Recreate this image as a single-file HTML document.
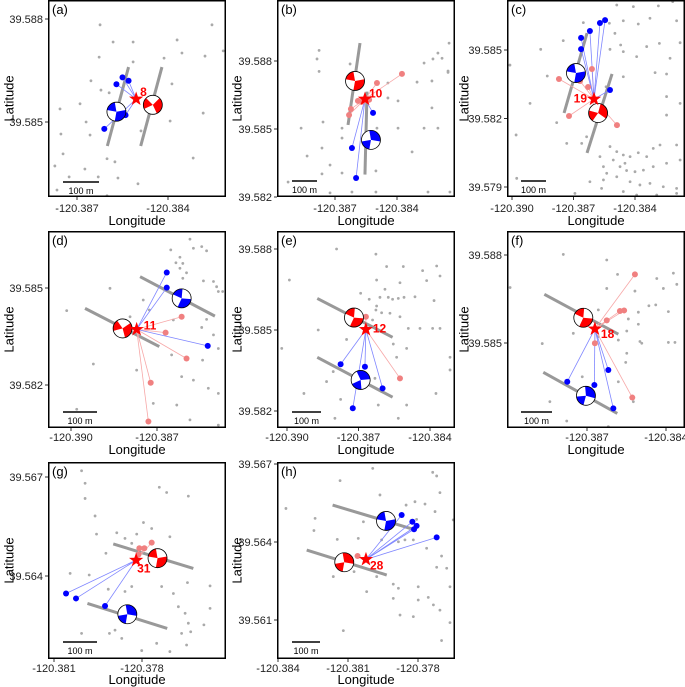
<!DOCTYPE html>
<html><head><meta charset="utf-8">
<style>
html,body{margin:0;padding:0;background:#fff;}
svg{display:block;font-family:"Liberation Sans",Arial,sans-serif;}
</style></head>
<body>
<svg id="fig" width="685" height="687" viewBox="0 0 685 687" xmlns="http://www.w3.org/2000/svg"></svg>
<script>
// ---------- DATA ----------
const xTickLabelsA = [-120.387, -120.384];
const yTickLabelsA = [39.588, 39.585];
const aStar = [-120.38505, 39.58567];
const aBlue = [[-120.3857,39.5861],[-120.3855,39.5863],[-120.3853,39.5862],[-120.3861,39.5848],[-120.3854,39.5852]];
const aRed = [];
const aBalls = [[-120.3857,39.5853,'blue',45],[-120.3845,39.5855,'red',10]];
const aFaults = [[-120.3853,39.5866,-120.3860,39.5843],[-120.3842,39.5866,-120.3849,39.5843]];
const aGray = [[-120.38624,39.58783],[-120.38255,39.58783],[-120.38581,39.58733],[-120.38515,39.58733],[-120.38370,39.58739],[-120.38354,39.58701],[-120.38218,39.58707],[-120.38627,39.58689],[-120.38413,39.58686],[-120.38654,39.58620],[-120.38621,39.58593],[-120.38594,39.58585],[-120.38387,39.58611],[-120.38690,39.58553],[-120.38756,39.58538],[-120.38670,39.58500],[-120.38753,39.58465],[-120.38657,39.58462],[-120.38489,39.58474],[-120.38393,39.58503],[-120.38284,39.58526],[-120.38746,39.58407],[-120.38601,39.58393],[-120.38575,39.58384],[-120.38674,39.58363],[-120.38773,39.58372],[-120.38726,39.58340],[-120.38630,39.58340],[-120.38565,39.58337],[-120.38499,39.58320],[-120.38317,39.58395],[-120.38766,39.58302],[-120.38601,39.58285],[-120.38515,39.58675],[-120.38278,39.58692]];

const xTickLabelsB = [-120.387, -120.384];
const yTickLabelsB = [39.588, 39.585, 39.582];
const bStar = [-120.38555, 39.58632];
const bBlue = [[-120.38516,39.58571],[-120.38618,39.58416],[-120.38598,39.58284]];
const bRed = [[-120.38376,39.58743],[-120.38497,39.58703],[-120.38589,39.58624],[-120.38569,39.58620],[-120.38535,39.58629],[-120.38623,39.58588],[-120.38632,39.58562]];
const bBalls = [[-120.38603,39.58712,'red',45],[-120.38526,39.58452,'blue',315]];
const bFaults = [[-120.38579,39.58879,-120.38637,39.58518],[-120.38545,39.58665,-120.38555,39.58299]];
const bGray = [[-120.38777,39.58847],[-120.38777,39.58754],[-120.38787,39.58809],[-120.38182,39.58812],[-120.38153,39.58750],[-120.38148,39.58879],[-120.38202,39.58835],[-120.38226,39.58809],[-120.38269,39.58791],[-120.38153,39.58756],[-120.38231,39.58712],[-120.38303,39.58707],[-120.38444,39.58703],[-120.38627,39.58787],[-120.38395,39.58624],[-120.38444,39.58637],[-120.38231,39.58593],[-120.38269,39.58504],[-120.38202,39.58504],[-120.38395,39.58504],[-120.38758,39.58531],[-120.38864,39.58504],[-120.38666,39.58504],[-120.38666,39.58460],[-120.38497,39.58504],[-120.38763,39.58416],[-120.38835,39.58381],[-120.38724,39.58341],[-120.38666,39.58306],[-120.38763,39.58302],[-120.38502,39.58315],[-120.38327,39.58399],[-120.38927,39.58266],[-120.38724,39.58218],[-120.38618,39.58222],[-120.38502,39.58222],[-120.38250,39.58222],[-120.38144,39.58222]];

const xTickLabelsC = [-120.390, -120.387, -120.384];
const yTickLabelsC = [39.585, 39.582, 39.579];
const cStar = [-120.38600, 39.58285];
const cBlue = [[-120.38663,39.58553],[-120.38663,39.58504],[-120.38620,39.58583],[-120.38571,39.58618],[-120.38546,39.58631],[-120.38522,39.58325]];
const cRed = [[-120.38771,39.58373],[-120.38668,39.58364],[-120.38610,39.58417],[-120.38629,39.58338],[-120.38722,39.58211],[-120.38488,39.58171],[-120.38610,39.58230]];
const cBalls = [[-120.38688,39.58399,'blue',45],[-120.38580,39.58224,'red',340]];
const cFaults = [[-120.38634,39.58574,-120.38746,39.58224],[-120.38512,39.58395,-120.38634,39.58049]];
const cGray = [[-120.38489,39.58697],[-120.38408,39.58690],[-120.38286,39.58693],[-120.38216,39.58712],[-120.38652,39.58620],[-120.38525,39.58617],[-120.38457,39.58628],[-120.38384,39.58614],[-120.38327,39.58639],[-120.38197,39.58628],[-120.38498,39.58573],[-120.38470,39.58522],[-120.38343,39.58515],[-120.38281,39.58529],[-120.38180,39.58532],[-120.38750,39.58541],[-120.38860,39.58503],[-120.38522,39.58503],[-120.38457,39.58493],[-120.38392,39.58471],[-120.38229,39.58464],[-120.39010,39.58434],[-120.38828,39.58386],[-120.38457,39.58383],[-120.38302,39.58401],[-120.38246,39.58395],[-120.38541,39.58339],[-120.38246,39.58296],[-120.38180,39.58266],[-120.38912,39.58266],[-120.38782,39.58182],[-120.38246,39.58215],[-120.38980,39.58128],[-120.38733,39.58091],[-120.38660,39.58091],[-120.38636,39.58120],[-120.38522,39.58077],[-120.38489,39.58055],[-120.38457,39.58040],[-120.38424,39.58033],[-120.38384,39.58050],[-120.38343,39.58033],[-120.38311,39.58069],[-120.38278,39.58084],[-120.38197,39.58084],[-120.38571,39.58033],[-120.38506,39.58018],[-120.38473,39.57989],[-120.38441,39.57972],[-120.38400,39.57967],[-120.38359,39.57974],[-120.38311,39.57989],[-120.38246,39.58004],[-120.38180,39.58018],[-120.38538,39.57960],[-120.38489,39.57945],[-120.38424,39.57923],[-120.38376,39.57909],[-120.38327,39.57916],[-120.38262,39.57901],[-120.38197,39.57894],[-120.38620,39.57923],[-120.38563,39.57894],[-120.38457,39.57880],[-120.38392,39.57865],[-120.38294,39.57865],[-120.38197,39.57872],[-120.38977,39.57938],[-120.38693,39.57872],[-120.38554,39.57989],[-120.38449,39.58004],[-120.38554,39.57931]];

const xTickLabelsD = [-120.390, -120.387];
const yTickLabelsD = [39.585, 39.582];
const dStar = [-120.38771, 39.58372];
const dBlue = [[-120.38666,39.58548],[-120.38666,39.58501],[-120.38523,39.58321]];
const dRed = [[-120.38614,39.58411],[-120.38670,39.58362],[-120.38597,39.58282],[-120.38722,39.58207],[-120.38730,39.58087]];
const dBalls = [[-120.38820,39.58375,'red',20],[-120.38614,39.58468,'blue',60]];
const dFaults = [[-120.38951,39.58437,-120.38692,39.58319],[-120.38759,39.58535,-120.38498,39.58413]];
const dGray = [[-120.38585,39.58651],[-120.38573,39.58623],[-120.38544,39.58628],[-120.38527,39.58615],[-120.38515,39.58679],[-120.38652,39.58618],[-120.38620,39.58595],[-120.38634,39.58578],[-120.38610,39.58576],[-120.38620,39.58561],[-120.38597,39.58547],[-120.38610,39.58530],[-120.38538,39.58522],[-120.38503,39.58520],[-120.38492,39.58504],[-120.38486,39.58489],[-120.38471,39.58489],[-120.38864,39.58499],[-120.38748,39.58463],[-120.39015,39.58430],[-120.38643,39.58401],[-120.38527,39.58403],[-120.38544,39.58378],[-120.38503,39.58355],[-120.38486,39.58313],[-120.38649,39.58293],[-120.38541,39.58277],[-120.38771,39.58246],[-120.38614,39.58226],[-120.38573,39.58215],[-120.38922,39.58265],[-120.38521,39.58190],[-120.38713,39.58143],[-120.38631,39.58138],[-120.38486,39.58174],[-120.38980,39.58125],[-120.38585,39.58092],[-120.38486,39.58076],[-120.38794,39.58411],[-120.38727,39.58432]];

const xTickLabelsE = [-120.390, -120.387, -120.384];
const yTickLabelsE = [39.588, 39.585, 39.582];
const eStar = [-120.38669, 39.58502];
const eBlue = [[-120.38775,39.58373],[-120.38673,39.58364],[-120.38599,39.58284],[-120.38724,39.58210]];
const eRed = [[-120.38669,39.58549],[-120.38526,39.58321]];
const eBalls = [[-120.38719,39.58546,'red',60],[-120.38691,39.58315,'blue',300]];
const eFaults = [[-120.38873,39.58617,-120.38557,39.58473],[-120.38873,39.58399,-120.38557,39.58251]];
const eGray = [[-120.38792,39.58800],[-120.38627,39.58781],[-120.38990,39.58685],[-120.38582,39.58735],[-120.38512,39.58735],[-120.38431,39.58720],[-120.38372,39.58737],[-120.38358,39.58700],[-120.38624,39.58685],[-120.38526,39.58675],[-120.38414,39.58683],[-120.38691,39.58636],[-120.38655,39.58614],[-120.38589,39.58651],[-120.38610,39.58621],[-120.38575,39.58621],[-120.38557,39.58614],[-120.38533,39.58617],[-120.38509,39.58621],[-120.38463,39.58623],[-120.38383,39.58609],[-120.38624,39.58589],[-120.38627,39.58574],[-120.38603,39.58564],[-120.38568,39.58562],[-120.38641,39.58537],[-120.38526,39.58549],[-120.38491,39.58506],[-120.38442,39.58506],[-120.38389,39.58506],[-120.38358,39.58506],[-120.38316,39.58399],[-120.38869,39.58500],[-120.38750,39.58465],[-120.38554,39.58448],[-120.38498,39.58432],[-120.38540,39.58399],[-120.39022,39.58432],[-120.38806,39.58346],[-120.38631,39.58321],[-120.38834,39.58309],[-120.38929,39.58265],[-120.38775,39.58243],[-120.38617,39.58222],[-120.38498,39.58222],[-120.38799,39.58173],[-120.38533,39.58173],[-120.38375,39.58265],[-120.38316,39.58352]];

const xTickLabelsF = [-120.387, -120.384];
const yTickLabelsF = [39.588, 39.585];
const fStar = [-120.38670, 39.58548];
const fBlue = [[-120.38775,39.58368],[-120.38672,39.58357],[-120.38619,39.58408],[-120.38600,39.58277]];
const fRed = [[-120.38518,39.58734],[-120.38575,39.58609],[-120.38559,39.58611],[-120.38625,39.58577],[-120.38670,39.58499],[-120.38528,39.58314]];
const fBalls = [[-120.38714,39.58586,'red',60],[-120.38704,39.58320,'blue',320]];
const fFaults = [[-120.38862,39.58666,-120.38581,39.58530],[-120.38866,39.58400,-120.38585,39.58260]];
const fGray = [[-120.38790,39.58802],[-120.38625,39.58783],[-120.38584,39.58734],[-120.38435,39.58720],[-120.38372,39.58738],[-120.38359,39.58700],[-120.38992,39.58689],[-120.38625,39.58686],[-120.38518,39.58677],[-120.38410,39.58686],[-120.38465,39.58627],[-120.38439,39.58630],[-120.38657,39.58613],[-120.38505,39.58605],[-120.38543,39.58582],[-120.38505,39.58564],[-120.38549,39.58541],[-120.38752,39.58533],[-120.38657,39.58522],[-120.38606,39.58539],[-120.38581,39.58510],[-120.38499,39.58505],[-120.38492,39.58499],[-120.38391,39.58502],[-120.38366,39.58502],[-120.38870,39.58498],[-120.38549,39.58465],[-120.38553,39.58434],[-120.38581,39.58368],[-120.38841,39.58300],[-120.38524,39.58300],[-120.38777,39.58234],[-120.38619,39.58215],[-120.38718,39.58385],[-120.38391,39.58607]];

const xTickLabelsG = [-120.381, -120.378];
const yTickLabelsG = [39.567, 39.564];
const gStar = [-120.37820, 39.56448];
const gBlue = [[-120.38059,39.56347],[-120.38025,39.56332],[-120.37926,39.56309]];
const gRed = [[-120.37809,39.56484],[-120.37792,39.56484],[-120.37767,39.56501],[-120.37812,39.56465]];
const gBalls = [[-120.37747,39.56454,'red',45],[-120.37850,39.56284,'blue',315]];
const gFaults = [[-120.37898,39.56497,-120.37625,39.56423],[-120.37986,39.56317,-120.37714,39.56241]];
const gGray = [[-120.38006,39.56719],[-120.37994,39.56681],[-120.37994,39.56635],[-120.37716,39.56653],[-120.37642,39.56642],[-120.37741,39.56669],[-120.37960,39.56582],[-120.37795,39.56562],[-120.37767,39.56544],[-120.37886,39.56531],[-120.37858,39.56514],[-120.37818,39.56527],[-120.37955,39.56527],[-120.37705,39.56519],[-120.37923,39.56469],[-120.37980,39.56403],[-120.37915,39.56360],[-120.38045,39.56408],[-120.37858,39.56353],[-120.37645,39.56380],[-120.37568,39.56370],[-120.37835,39.56368],[-120.37733,39.56368],[-120.37693,39.56347],[-120.37676,39.56307],[-120.37568,39.56302],[-120.37653,39.56287],[-120.37892,39.56236],[-120.37911,39.56226],[-120.38006,39.56226],[-120.37869,39.56211],[-120.37642,39.56257],[-120.37589,39.56252],[-120.37634,39.56231],[-120.37665,39.56226],[-120.37801,39.56174],[-120.37750,39.56196],[-120.37648,39.56191],[-120.37705,39.56171],[-120.37420,39.56436],[-120.37784,39.56433],[-120.37835,39.56499]];

const xTickLabelsH = [-120.384, -120.381, -120.378];
const yTickLabelsH = [39.567, 39.564, 39.561];
const hStar = [-120.38023, 39.56333];
const hBlue = [[-120.37870,39.56504],[-120.37824,39.56478],[-120.37806,39.56462],[-120.37817,39.56449],[-120.37720,39.56418]];
const hRed = [[-120.38059,39.56346]];
const hBalls = [[-120.38116,39.56322,'red',315],[-120.37937,39.56481,'blue',45]];
const hFaults = [[-120.38166,39.56542,-120.37820,39.56449],[-120.38277,39.56369,-120.37934,39.56273]];
const hGray = [[-120.37994,39.56683],[-120.37737,39.56668],[-120.37720,39.56654],[-120.37963,39.56581],[-120.37813,39.56555],[-120.37770,39.56546],[-120.37851,39.56542],[-120.37727,39.56517],[-120.37706,39.56590],[-120.38366,39.56529],[-120.38134,39.56636],[-120.37649,39.56485],[-120.38241,39.56491],[-120.38034,39.56478],[-120.37806,39.56487],[-120.38246,39.56444],[-120.38056,39.56414],[-120.38146,39.56410],[-120.37956,39.56408],[-120.37884,39.56401],[-120.37856,39.56408],[-120.37820,39.56408],[-120.37763,39.56376],[-120.37699,39.56346],[-120.37720,39.56303],[-120.37677,39.56299],[-120.37977,39.56267],[-120.37906,39.56238],[-120.37884,39.56222],[-120.37799,39.56228],[-120.37663,39.56228],[-120.37906,39.56183],[-120.37799,39.56177],[-120.37756,39.56187],[-120.37734,39.56158],[-120.37706,39.56138],[-120.37877,39.56119],[-120.37820,39.56113],[-120.38120,39.56059],[-120.37663,39.56090],[-120.37699,39.56021],[-120.38074,39.56286],[-120.38163,39.56267],[-120.38020,39.56209]];

const eventIds = ['8','10','19','11','12','18','31','28'];

// ---------- LAYOUT ----------
const panels = [
 {k:'a',box:[48,0,226,197],xc:[-120.387,-120.384,77,168],yc:[39.588,39.585,19,122],xt:xTickLabelsA,yt:yTickLabelsA,star:aStar,blue:aBlue,red:aRed,balls:aBalls,faults:aFaults,gray:aGray,lab:[4,-6,'start'],scale:[63,99,182],tickY:212,titleY:225,latX:10},
 {k:'b',box:[277,0,455,197],xc:[-120.387,-120.384,335,397],yc:[39.588,39.582,61,197],xt:xTickLabelsB,yt:yTickLabelsB,star:bStar,blue:bBlue,red:bRed,balls:bBalls,faults:bFaults,gray:bGray,lab:[4,-5,'start'],scale:[292,317,181],tickY:212,titleY:225,latX:238},
 {k:'c',box:[507,0,685,197],xc:[-120.390,-120.384,512,635],yc:[39.585,39.579,50,187],xt:xTickLabelsC,yt:yTickLabelsC,star:cStar,blue:cBlue,red:cRed,balls:cBalls,faults:cFaults,gray:cGray,lab:[-7,0,'end'],scale:[521,546,181],tickY:212,titleY:225,latX:465},
 {k:'d',box:[48,231,226,428],xc:[-120.390,-120.387,71,157],yc:[39.585,39.582,288,385],xt:xTickLabelsD,yt:yTickLabelsD,star:dStar,blue:dBlue,red:dRed,balls:dBalls,faults:dFaults,gray:dGray,lab:[7,-3,'start'],scale:[63,97,412],tickY:441,titleY:454,latX:10},
 {k:'e',box:[277,231,455,428],xc:[-120.390,-120.384,287,430],yc:[39.588,39.582,249,411],xt:xTickLabelsE,yt:yTickLabelsE,star:eStar,blue:eBlue,red:eRed,balls:eBalls,faults:eFaults,gray:eGray,lab:[7,0,'start'],scale:[292,321,412],tickY:441,titleY:454,latX:238},
 {k:'f',box:[507,231,685,428],xc:[-120.387,-120.384,587,666],yc:[39.588,39.585,255,343],xt:xTickLabelsF,yt:yTickLabelsF,star:fStar,blue:fBlue,red:fRed,balls:fBalls,faults:fFaults,gray:fGray,lab:[6,6,'start'],scale:[521,552,412],tickY:441,titleY:454,latX:465},
 {k:'g',box:[48,462,226,659],xc:[-120.381,-120.378,54,142],yc:[39.567,39.564,477,576],xt:xTickLabelsG,yt:yTickLabelsG,star:gStar,blue:gBlue,red:gRed,balls:gBalls,faults:gFaults,gray:gGray,lab:[1,9,'start'],scale:[63,97,642],tickY:672,titleY:684,latX:10},
 {k:'h',box:[277,462,455,659],xc:[-120.384,-120.378,278,418],yc:[39.567,39.561,464,620],xt:xTickLabelsH,yt:yTickLabelsH,star:hStar,blue:hBlue,red:hRed,balls:hBalls,faults:hFaults,gray:hGray,lab:[4,7,'start'],scale:[292,320,642],tickY:672,titleY:684,latX:238}
];

const NS='http://www.w3.org/2000/svg';
const svg=document.getElementById('fig');
function mk(tag,attrs,parent){const e=document.createElementNS(NS,tag);for(const a in attrs)e.setAttribute(a,attrs[a]);(parent||svg).appendChild(e);return e;}
const defs=mk('defs',{});

panels.forEach((p,i)=>{
  const X=v=>p.xc[2]+(v-p.xc[0])*(p.xc[3]-p.xc[2])/(p.xc[1]-p.xc[0]);
  const Y=v=>p.yc[2]+(v-p.yc[0])*(p.yc[3]-p.yc[2])/(p.yc[1]-p.yc[0]);
  const [x0,y0,x1,y1]=p.box;
  const g=mk('g',{});
  
  
  const cp=mk('clipPath',{id:'clip'+p.k},defs);
  mk('rect',{x:x0,y:y0,width:x1-x0,height:y1-y0},cp);
  const bg=mk('rect',{x:x0,y:y0,width:x1-x0,height:y1-y0,fill:'#fff'},g);
  
  
  const inner=mk('g',{'clip-path':'url(#clip'+p.k+')'},g);
  p.gray.forEach(d=>{
    const c=mk('circle',{cx:X(d[0]),cy:Y(d[1]),r:1.4,fill:'#aaaaaa'},inner);
    
    
  });
  p.faults.forEach(f=>{
    const l=mk('line',{x1:X(f[0]),y1:Y(f[1]),x2:X(f[2]),y2:Y(f[3]),stroke:'#999',"stroke-width":3},inner);
    
    
  });
  const sx=X(p.star[0]), sy=Y(p.star[1]);
  p.red.forEach(d=>{
    const l=mk('line',{x1:sx,y1:sy,x2:X(d[0]),y2:Y(d[1]),stroke:'#f7a8a8',"stroke-width":0.8},inner);
    
    
  });
  p.blue.forEach(d=>{
    const l=mk('line',{x1:sx,y1:sy,x2:X(d[0]),y2:Y(d[1]),stroke:'#7f86ff',"stroke-width":0.8},inner);
    
    
  });
  p.red.forEach(d=>{
    const c=mk('circle',{cx:X(d[0]),cy:Y(d[1]),r:3,fill:'#f08080'},inner);
    
    
  });
  p.blue.forEach(d=>{
    const c=mk('circle',{cx:X(d[0]),cy:Y(d[1]),r:3,fill:'#0000ff'},inner);
    
    
  });
  p.balls.forEach(b=>{
    const cx=X(b[0]), cy=Y(b[1]), r=9.5, col=b[2]==='red'?'#ff0000':'#0000ff';
    const bb=mk('g',{},inner);
    
    
    mk('circle',{cx,cy,r,fill:'#fff'},bb);
    // one large and one smaller compressional wedge
    [[b[3],55],[b[3]+180,35]].forEach(w=>{
      const a1=(w[0]-w[1])*Math.PI/180,a2=(w[0]+w[1])*Math.PI/180;
      mk('path',{d:`M${cx},${cy} L${cx+r*Math.cos(a1)},${cy+r*Math.sin(a1)} A${r},${r} 0 0 1 ${cx+r*Math.cos(a2)},${cy+r*Math.sin(a2)} Z`,fill:col},bb);
    });
    mk('circle',{cx,cy,r,fill:'none',stroke:'#000',"stroke-width":0.8},bb);
  });
  let pts=[];
  for(let k=0;k<10;k++){const rr=k%2?3:7.5;const a=-Math.PI/2+k*Math.PI/5;pts.push((sx+rr*Math.cos(a)).toFixed(2)+','+(sy+rr*Math.sin(a)).toFixed(2));}
  const st=mk('polygon',{points:pts.join(' '),fill:'#ff0000'},inner);
  
  
  const lt=mk('text',{x:sx+p.lab[0],y:sy+p.lab[1],'text-anchor':p.lab[2],'dominant-baseline':'middle','font-size':12,'font-weight':'bold',fill:'#ff0000'},g);
  lt.textContent=eventIds[i];
  
  
  const sb=mk('line',{x1:p.scale[0],y1:p.scale[2],x2:p.scale[1],y2:p.scale[2],stroke:'#000',"stroke-width":1.5},g);
  
  
  const sbt=mk('text',{x:(p.scale[0]+p.scale[1])/2,y:p.scale[2]+12,'text-anchor':'middle','font-size':9},g);
  sbt.textContent='100 m';
  
  
  const fr=mk('rect',{x:x0+0.75,y:y0+0.75,width:x1-x0-1.5,height:y1-y0-1.5,fill:'none',stroke:'#000',"stroke-width":1.5},g);
  
  
  const pl=mk('text',{x:x0+4,y:y0+14,'font-size':13},g);
  pl.textContent='('+p.k+')';
  
  
  p.xt.forEach(v=>{
    const tx=X(v);
    mk('line',{x1:tx,y1:y1,x2:tx,y2:y1+3,stroke:'#333',"stroke-width":1},g);
    const t=mk('text',{x:tx,y:p.tickY,'text-anchor':'middle','font-size':11,fill:'#222'},g);
    t.textContent=v.toFixed(3);
    
    
  });
  p.yt.forEach(v=>{
    const ty=Y(v);
    mk('line',{x1:x0-3,y1:ty,x2:x0,y2:ty,stroke:'#333',"stroke-width":1},g);
    const t=mk('text',{x:x0-5,y:ty+4,'text-anchor':'end','font-size':11,fill:'#222'},g);
    t.textContent=v.toFixed(3);
    
    
  });
  const xt=mk('text',{x:(x0+x1)/2,y:p.titleY,'text-anchor':'middle','font-size':13},g);
  xt.textContent='Longitude';
  
  
  const cy=(y0+y1)/2;
  const yt=mk('text',{x:p.latX,y:cy,'text-anchor':'middle','font-size':13,transform:`rotate(-90 ${p.latX} ${cy})`,'dominant-baseline':'middle'},g);
  yt.textContent='Latitude';
  
  
});
</script>
</body></html>
